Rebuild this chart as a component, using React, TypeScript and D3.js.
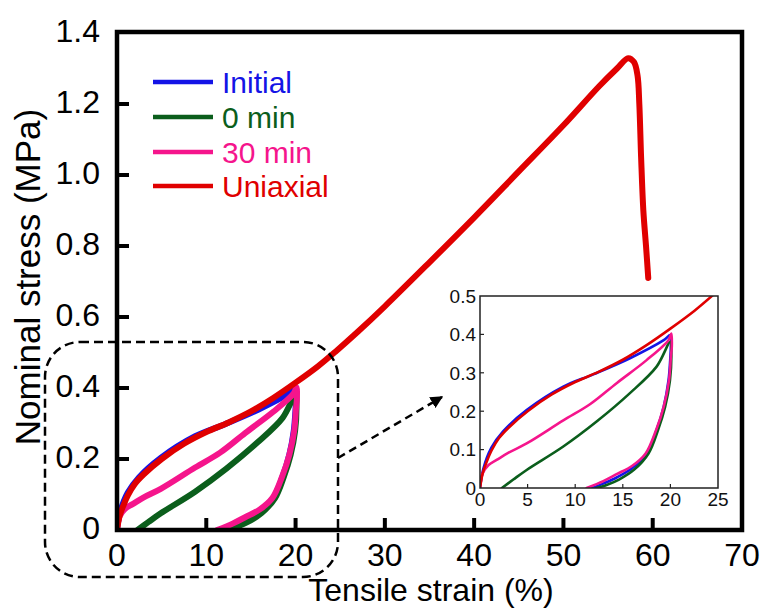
import React from "react";
import * as d3 from "d3";

type Pt = [number, number];

// Tensile strain (%), nominal stress (MPa)
const uniaxial: Pt[] = [
  [0, 0], [0.3, 0.04], [0.7, 0.068], [1.2, 0.097], [2, 0.13], [3, 0.157], [5, 0.2],
  [7.5, 0.243], [10, 0.276], [12.5, 0.303], [15, 0.334], [17.5, 0.372], [20, 0.415],
  [22.5, 0.461], [24.5, 0.503], [27, 0.559], [30, 0.63], [35, 0.754], [40, 0.88],
  [45, 1.01], [50, 1.14], [54, 1.25], [56, 1.3], [57.25, 1.329], [57.9, 1.318],
  [58.3, 1.28], [58.5, 1.2], [58.7, 1.05], [58.95, 0.9], [59.25, 0.8], [59.5, 0.71],
];

const initial: Pt[] = [
  [0, 0], [0.35, 0.05], [1.2, 0.105], [2.45, 0.148], [4.9, 0.203], [8.75, 0.264],
  [11.9, 0.296], [15.75, 0.338], [19.3, 0.385], [20, 0.398],
  [20.05, 0.37], [20.0, 0.342], [19.8, 0.28], [19.3, 0.212], [18.55, 0.151],
  [17.5, 0.09], [16, 0.052], [14.4, 0.028], [13, 0.012], [11.8, 0],
];

const min0: Pt[] = [
  [2.3, 0], [3.5, 0.022], [4.9, 0.047], [8.75, 0.108], [12.25, 0.173], [15.75, 0.247],
  [18.55, 0.316], [20, 0.381],
  [20.1, 0.35], [19.95, 0.28], [19.45, 0.212], [18.7, 0.151], [17.7, 0.09],
  [16.2, 0.048], [14.6, 0.022], [13.3, 0.008], [12.2, 0],
];

const min30: Pt[] = [
  [0, 0], [0.28, 0.038], [0.9, 0.06], [1.75, 0.073], [3, 0.092], [4.9, 0.116],
  [8.75, 0.176], [11.55, 0.218], [14.35, 0.273], [17.5, 0.333], [19.8, 0.385], [20.1, 0.402],
  [20.15, 0.37], [20.05, 0.342], [19.85, 0.28], [19.3, 0.212], [18.5, 0.151],
  [17.4, 0.09], [16, 0.058], [14.35, 0.036], [12.95, 0.018], [11.2, 0],
];

const seriesNames = ["Initial", "0 min", "30 min", "Uniaxial"];
const seriesColors = ["#1414e6", "#0b5e1c", "#f5158c", "#e00000"];
const seriesData = [initial, min0, min30, uniaxial];

const xTicks = [0, 10, 20, 30, 40, 50, 60, 70];
const yTicks = [0, 0.2, 0.4, 0.6, 0.8, 1.0, 1.2, 1.4];
const insetXTicks = [0, 5, 10, 15, 20, 25];
const insetYTicks = [0, 0.1, 0.2, 0.3, 0.4, 0.5];

const FONT = "'Liberation Sans', Arial, Helvetica, sans-serif";

export default function App() {
  const x = d3.scaleLinear().domain([0, 70]).range([117, 742]);
  const y = d3.scaleLinear().domain([0, 1.4]).range([530, 33]);
  const ix = d3.scaleLinear().domain([0, 25]).range([480, 718]);
  const iy = d3.scaleLinear().domain([0, 0.5]).range([488, 296]);

  const mainLine = d3
    .line<Pt>()
    .x((d) => x(d[0]))
    .y((d) => y(d[1]))
    .curve(d3.curveCatmullRom.alpha(0.5));
  const insetLine = d3
    .line<Pt>()
    .x((d) => ix(d[0]))
    .y((d) => iy(d[1]))
    .curve(d3.curveCatmullRom.alpha(0.5));

  const fmtY = (v: number) => (v === 0 ? "0" : v.toFixed(1));

  return (
    <svg
      width={764}
      height={609}
      style={{ position: "absolute", left: 0, top: 0, background: "#fff" }}
      fontFamily={FONT}
    >
      <defs>
        <clipPath id="mainClip">
          <rect x={117} y={33} width={625} height={497} />
        </clipPath>
        <clipPath id="insetClip">
          <rect x={480} y={296} width={238} height={192} />
        </clipPath>
        <marker id="arrowHead" viewBox="0 0 10 10" refX="9" refY="5" markerWidth="5" markerHeight="5" orient="auto">
          <path d="M0,0 L10,5 L0,10 z" fill="#000" />
        </marker>
      </defs>

      {/* main curves */}
      <g clipPath="url(#mainClip)" fill="none" strokeLinejoin="round" strokeLinecap="round">
        {seriesData.map((d, i) => (
          <path key={i} d={mainLine(d) || ""} stroke={seriesColors[i]} strokeWidth={6} />
        ))}
      </g>

      {/* main frame */}
      <rect x={117} y={32} width={625} height={498} fill="none" stroke="#000" strokeWidth={4.5} />
      {yTicks.slice(1, -1).map((v) => (
        <line key={"yt" + v} x1={117} x2={129} y1={y(v)} y2={y(v)} stroke="#000" strokeWidth={4} />
      ))}
      {xTicks.slice(1, -1).map((v) => (
        <line key={"xt" + v} x1={x(v)} x2={x(v)} y1={530} y2={518} stroke="#000" strokeWidth={4} />
      ))}
      {yTicks.map((v) => (
        <text key={"yl" + v} x={100} y={y(v) + 8.5} textAnchor="end" fontSize={32} fill="#000">
          {fmtY(v)}
        </text>
      ))}
      {xTicks.map((v) => (
        <text key={"xl" + v} x={x(v)} y={566} textAnchor="middle" fontSize={32} fill="#000">
          {v}
        </text>
      ))}
      <text x={431} y={601} textAnchor="middle" fontSize={32} fill="#000">
        Tensile strain (%)
      </text>
      <text transform="translate(40,277) rotate(-90)" textAnchor="middle" fontSize={35} fill="#000">
        Nominal stress (MPa)
      </text>

      {/* legend */}
      {seriesNames.map((n, i) => {
        const ly = [82, 117, 152, 186][i];
        return (
          <g key={n}>
            <line x1={153} x2={213} y1={ly} y2={ly} stroke={seriesColors[i]} strokeWidth={4.5} />
            <text x={222} y={ly + 11} fontSize={30} fill={seriesColors[i]}>
              {n}
            </text>
          </g>
        );
      })}

      {/* dashed highlight + arrow */}
      <rect x={45} y={342} width={293} height={235} rx={35} ry={35} fill="none" stroke="#000" strokeWidth={2.5} strokeDasharray="9 5" />
      <line x1={338} y1={458} x2={442} y2={397} stroke="#000" strokeWidth={2.5} strokeDasharray="8 5" markerEnd="url(#arrowHead)" />

      {/* inset */}
      <rect x={480} y={296} width={238} height={192} fill="#fff" />
      <g clipPath="url(#insetClip)" fill="none" strokeLinejoin="round" strokeLinecap="round">
        {seriesData.map((d, i) => (
          <path key={"in" + i} d={insetLine(d) || ""} stroke={seriesColors[i]} strokeWidth={2.6} />
        ))}
      </g>
      <rect x={480} y={296} width={238} height={192} fill="none" stroke="#222" strokeWidth={1.5} />
      {insetYTicks.slice(1, -1).map((v) => (
        <line key={"iyt" + v} x1={480} x2={484} y1={iy(v)} y2={iy(v)} stroke="#222" strokeWidth={1.2} />
      ))}
      {insetXTicks.slice(1, -1).map((v) => (
        <line key={"ixt" + v} x1={ix(v)} x2={ix(v)} y1={488} y2={484} stroke="#222" strokeWidth={1.2} />
      ))}
      {insetYTicks.map((v) => (
        <text key={"iyl" + v} x={476} y={iy(v) + 6.7} textAnchor="end" fontSize={19} fill="#111">
          {fmtY(v)}
        </text>
      ))}
      {insetXTicks.map((v) => (
        <text key={"ixl" + v} x={ix(v)} y={506} textAnchor="middle" fontSize={19} fill="#111">
          {v}
        </text>
      ))}
    </svg>
  );
}
